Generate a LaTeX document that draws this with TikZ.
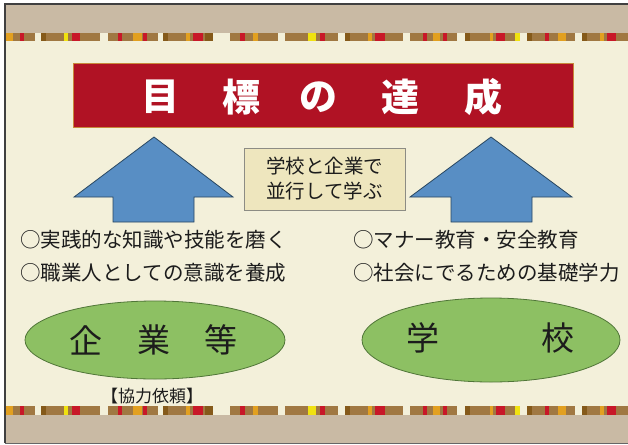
\documentclass[tikz,border=0pt]{standalone}
\usepackage{fontspec}
\usetikzlibrary{shapes.geometric}
\newfontfamily\cjk{Noto Sans CJK JP}
\definecolor{tanband}{RGB}{201,186,164}
\definecolor{cream}{RGB}{243,240,218}
\definecolor{sbr}{RGB}{160,120,66}
\definecolor{sdk}{RGB}{133,90,26}
\definecolor{sor}{RGB}{226,160,32}
\definecolor{srd}{RGB}{200,24,40}
\definecolor{syl}{RGB}{240,226,16}
\definecolor{titlered}{RGB}{176,18,36}
\definecolor{titleedge}{RGB}{200,136,58}
\definecolor{arrowblue}{RGB}{88,142,196}
\definecolor{arrowedge}{RGB}{40,70,96}
\definecolor{boxfill}{RGB}{238,230,190}
\definecolor{boxedge}{RGB}{140,140,132}
\definecolor{leaf}{RGB}{141,192,99}
\definecolor{leafedge}{RGB}{80,118,56}
\definecolor{ink}{RGB}{28,28,28}
\tikzset{
  arrowshape/.style={fill=arrowblue,draw=arrowedge,line width=0.8pt,line join=miter},
  titlechar/.style={text=white,font=\cjk\bfseries\fontsize{38}{40}\selectfont,inner sep=0pt},
  bullet/.style={text=ink,font=\cjk\fontsize{20.5}{24}\selectfont,anchor=west,inner sep=0pt},
  oval/.style={ellipse,fill=leaf,draw=leafedge,line width=0.8pt,inner sep=0pt},
  ovalchar/.style={text=ink,font=\cjk\fontsize{33}{35}\selectfont,inner sep=0pt},
  midbox/.style={rectangle,fill=boxfill,draw=boxedge,line width=0.8pt,text=ink,
    font=\cjk\fontsize{19.5}{25}\selectfont,align=center,inner sep=0pt},
}
\begin{document}
\begin{tikzpicture}[x=1pt,y=-1pt]
\useasboundingbox (0,0) rectangle (628,444);
\fill[white] (0,0) rectangle (628,444);
\fill[tanband] (5,4) rectangle (628,443);
\fill[cream] (5,33) rectangle (628,415);
% stripes
\foreach \yy in {33,406}{
  \begin{scope}[shift={(0,\yy)}]
    \foreach \a/\b in {5/35,41/100,108/158,163/213,230/278,285/338,345/403,410/457,465/520,527/575,582/628}
      \fill[sbr] (\a,0) rectangle (\b,8.5);
    \foreach \a/\b/\c in {5/13/sor,20/24/srd,41/46/sdk,64/68/syl,72/80/srd,118/122/srd,133/142/sor,143/147/srd,
      163/168/sdk,186/190/sor,193/203/srd,205/213/sdk,240/245/srd,253/258/sor,308/316/syl,320/325/srd,
      345/350/sdk,368/372/sor,375/385/srd,423/427/srd,433/440/sor,443/447/srd,465/470/sdk,490/493/sor,
      496/505/srd,515/520/syl,527/532/sdk,545/549/srd,558/566/sor,582/587/sdk,600/604/sor,607/616/srd}
      \fill[\c] (\a,0) rectangle (\b,8.5);
  \end{scope}
}
% frame lines
\draw[black!75,line width=1.2pt] (5,443) -- (5,4) -- (628,4);
\draw[black!60,line width=0.8pt] (5,443) -- (628,443);
% title
\fill[titlered] (73,63) rectangle (573,127);
\draw[titleedge,line width=1pt] (73,63) rectangle (573,127);
\foreach \i/\x/\t in {1/160/目,2/241/標,3/318/の,4/400/達,5/483/成}
  \node[titlechar] (t\i) at (\x,97) {\t};
% arrows
\draw[arrowshape] (154,137) -- (233,197) -- (194,197) -- (194,222) -- (113,222) -- (113,197) -- (74,197) -- cycle;
\draw[arrowshape] (491,137) -- (572,197) -- (532,197) -- (532,222) -- (451,222) -- (451,197) -- (410,197) -- cycle;
% middle box
\node[midbox,minimum width=161pt,minimum height=62pt] (mid) at (324.5,179) {学校と企業で\\並行して学ぶ};
% bullets
\node[bullet] (l1) at (20,240) {○実践的な知識や技能を磨く};
\node[bullet] (l2) at (20,273) {○職業人としての意識を養成};
\node[bullet] (r1) at (353,240) {○マナー教育・安全教育};
\node[bullet] (r2) at (353,273) {○社会にでるための基礎学力};
% ovals
\node[oval,minimum width=260pt,minimum height=78pt] (company) at (155,340) {};
\node[oval,minimum width=258pt,minimum height=84pt] (school) at (491,340) {};
\node[ovalchar] (c1) at (86,340) {企};
\node[ovalchar] (c2) at (154,340) {業};
\node[ovalchar] (c3) at (221,340) {等};
\node[ovalchar] (s1) at (423,338) {学};
\node[ovalchar] (s2) at (558,338) {校};
\node[text=ink,font=\cjk\fontsize{17}{19}\selectfont,inner sep=0pt] (req) at (152,396) {【協力依頼】};
\end{tikzpicture}
\end{document}
